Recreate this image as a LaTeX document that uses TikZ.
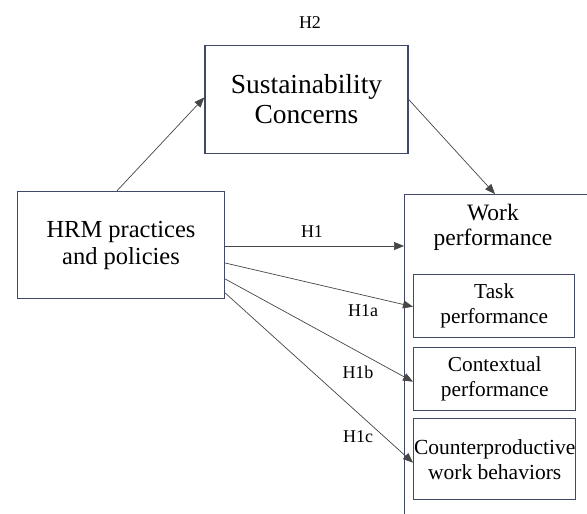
\documentclass[tikz,border=0pt]{standalone}
\usepackage{fontspec}
\setmainfont{LiberationSerif}[Extension=.ttf,UprightFont=*-Regular,BoldFont=*-Bold,ItalicFont=*-Italic]
\usetikzlibrary{arrows.meta}
\definecolor{boxline}{RGB}{62,74,104}
\definecolor{arrowline}{RGB}{70,70,70}
\begin{document}
\begin{tikzpicture}[x=1pt,y=-1pt,
  box/.style={draw=boxline,line width=1.4pt,inner sep=0pt,align=center,text=black},
  link/.style={draw=arrowline,line width=0.7pt,-{Triangle[length=10pt,width=8pt]}},
  hyp/.style={font=\rmfamily\fontsize{18}{19}\selectfont}]
  \clip (0,0) rectangle (587,514);
  \fill[white] (0,0) rectangle (587,514);

  % main constructs
  \node[box,minimum width=203pt,minimum height=108pt,
        font=\rmfamily\fontsize{27.5}{30}\selectfont] (sus) at (306.5,99.5)
        {Sustainability\\Concerns};
  \node[box,minimum width=207pt,minimum height=107pt,
        font=\rmfamily\fontsize{24.5}{27}\selectfont] (hrm) at (121,245)
        {HRM practices\\and policies};
  \node[box,anchor=north west,minimum width=230pt,minimum height=360pt] (work)
        at (404,194) {};
  \node[align=center,font=\rmfamily\fontsize{23.5}{25}\selectfont,anchor=north] (worklbl)
        at (493,201) {Work\\performance};

  % dimensions of work performance
  \node[box,anchor=north west,minimum width=161pt,minimum height=63pt,
        font=\rmfamily\fontsize{21.3}{25}\selectfont] (task) at (413,274)
        {Task\\performance};
  \node[box,anchor=north west,minimum width=162pt,minimum height=63pt,
        font=\rmfamily\fontsize{21.3}{25}\selectfont] (ctx) at (413,347)
        {Contextual\\performance};
  \node[box,anchor=north west,minimum width=162pt,minimum height=81pt,
        font=\rmfamily\fontsize{21.5}{25}\selectfont] (cwb) at (413,418)
        {Counterproductive\\work behaviors};

  % hypotheses
  \coordinate (h1s) at ([yshift=-1pt]hrm.east);
  \draw[link] ([xshift=-4pt]hrm.north) -- ([yshift=2pt]sus.west);
  \draw[link] (sus.east) -- ([xshift=91pt]work.north west);
  \draw[link] (h1s) -- (work.west |- h1s);
  \draw[link] ([yshift=-18pt]hrm.east) -- ([yshift=-0.5pt]task.west);
  \draw[link] ([yshift=-34pt]hrm.east) -- ([yshift=-2.5pt]ctx.west);
  \draw[link] ([yshift=-48pt]hrm.east) -- ([yshift=-3.5pt]cwb.west);

  \node[hyp] (h2) at (310,23) {H2};
  \node[hyp] (h1) at (312,232) {H1};
  \node[hyp] (h1a) at (363,311) {H1a};
  \node[hyp] (h1b) at (358,372) {H1b};
  \node[hyp] (h1c) at (358,437) {H1c};
\end{tikzpicture}
\end{document}
